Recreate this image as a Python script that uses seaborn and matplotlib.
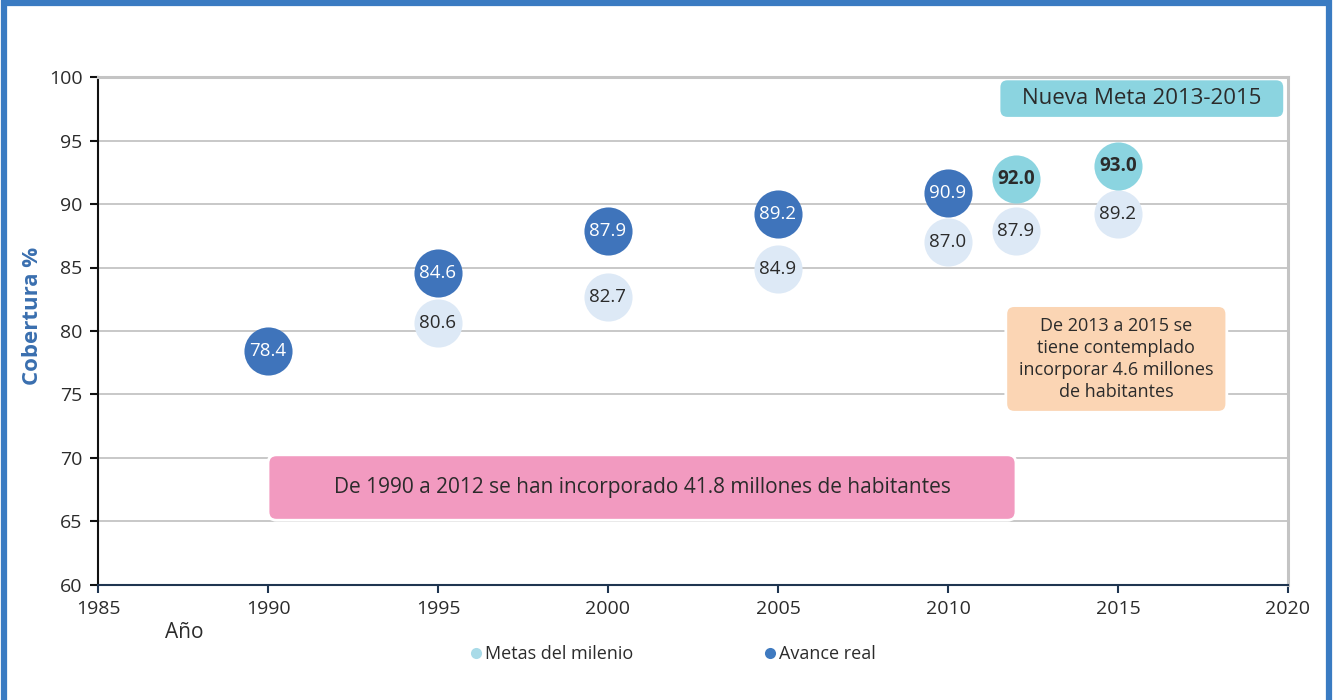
import matplotlib
matplotlib.use("Agg")
import matplotlib.pyplot as plt
import seaborn as sns
import pandas as pd
from matplotlib.patches import FancyBboxPatch, Rectangle
from matplotlib.lines import Line2D

# ---- data ----
metas_years = [1995, 2000, 2005, 2010, 2012, 2015]
metas_values = [80.6, 82.7, 84.9, 87.0, 87.9, 89.2]
avance_years = [1990, 1995, 2000, 2005, 2010]
avance_values = [78.4, 84.6, 87.9, 89.2, 90.9]
nueva_years = [2012, 2015]
nueva_values = [92.0, 93.0]
x_ticks = [1985, 1990, 1995, 2000, 2005, 2010, 2015, 2020]
y_ticks = [60, 65, 70, 75, 80, 85, 90, 95, 100]

sns.set_theme(style="white")
plt.rcParams['font.family'] = ['Open Sans', 'DejaVu Sans']

C_METAS = "#dde9f6"
C_AVANCE = "#3f74bb"
C_NUEVA = "#8bd4e0"
C_TEXT = "#2b2b2b"

fig = plt.figure(figsize=(13.33, 7.0), dpi=100)
ax = fig.add_axes([98/1333, 1-585/700, (1288-98)/1333, (585-77)/700])

# outer blue frame
fig.patches.append(Rectangle((4/1333, -0.05), (1329-4)/1333, 1.05 - 3/700,
                             transform=fig.transFigure, fill=False,
                             edgecolor="#3a7bc2", linewidth=4.5, zorder=0))

ax.set_xlim(1985, 2020)
ax.set_ylim(60, 100)
ax.set_xticks(x_ticks)
ax.set_yticks(y_ticks)
ax.yaxis.grid(True, color="#c4c4c4", linewidth=1.3, zorder=0)
ax.set_axisbelow(True)

for sp in ["top", "right"]:
    ax.spines[sp].set_color("#c4c4c4")
    ax.spines[sp].set_linewidth(2.2)
ax.spines["left"].set_color("#111111")
ax.spines["left"].set_linewidth(1.5)
ax.spines["bottom"].set_color("#1f3550")
ax.spines["bottom"].set_linewidth(1.5)
ax.tick_params(axis="y", which="both", left=True, direction="out", length=6,
               width=1.5, color="#111111", labelsize=14, labelcolor=C_TEXT, pad=5)
ax.tick_params(axis="x", which="both", bottom=True, direction="out", length=6,
               width=1.5, color="#1f3550", labelsize=14, labelcolor=C_TEXT, pad=5)

# data conversion factor for rounded boxes
asp = (40/508) / (35/1190)

def rbox(x0, y0, x1, y1, color, ec="white"):
    p = FancyBboxPatch((x0, y0), x1 - x0, y1 - y0,
                       boxstyle="round,pad=0,rounding_size=0.25",
                       mutation_aspect=asp, facecolor=color, edgecolor=ec,
                       linewidth=2, zorder=2)
    ax.add_patch(p)

# annotation boxes
rbox(1990.0, 65.1, 2012.0, 70.25, "#f29ac0")
ax.text(2001.0, 67.7, "De 1990 a 2012 se han incorporado 41.8 millones de habitantes",
        ha="center", va="center", fontsize=15, color=C_TEXT, zorder=3)
rbox(2011.5, 96.75, 2019.9, 99.85, "#8bd4e0")
ax.text(2015.7, 98.3, "Nueva Meta 2013-2015", ha="center", va="center",
        fontsize=16, color=C_TEXT, zorder=3)
rbox(2011.7, 73.6, 2018.2, 82.0, "#fbd5b4")
ax.text(2014.95, 77.8, "De 2013 a 2015 se\ntiene contemplado\nincorporar 4.6 millones\nde habitantes",
        ha="center", va="center", fontsize=13, color=C_TEXT, linespacing=1.3, zorder=3)

df_m = pd.DataFrame({"year": metas_years, "value": metas_values})
df_a = pd.DataFrame({"year": avance_years, "value": avance_values})
df_n = pd.DataFrame({"year": nueva_years, "value": nueva_values})

S = 1200
sns.scatterplot(data=df_m, x="year", y="value", s=S, color=C_METAS, linewidth=0,
                ax=ax, zorder=4, legend=False)
sns.scatterplot(data=df_a, x="year", y="value", s=S, color=C_AVANCE, linewidth=0,
                ax=ax, zorder=5, legend=False)
sns.scatterplot(data=df_n, x="year", y="value", s=S, color=C_NUEVA, linewidth=0,
                ax=ax, zorder=5, legend=False)

for x, y in zip(metas_years, metas_values):
    ax.text(x, y, f"{y:.1f}", ha="center", va="center", fontsize=13.5,
            color=C_TEXT, zorder=6)
for x, y in zip(avance_years, avance_values):
    ax.text(x, y, f"{y:.1f}", ha="center", va="center", fontsize=13.5,
            color="white", zorder=6)
for x, y in zip(nueva_years, nueva_values):
    ax.text(x, y, f"{y:.1f}", ha="center", va="center", fontsize=13.5,
            color=C_TEXT, fontweight="bold", zorder=6)

ax.set_xlabel("")
ax.set_ylabel("Cobertura %", fontsize=16, fontweight="bold", color="#3a6faf")
ax.yaxis.set_label_coords(-0.046, 0.53)
fig.text(184/1333, 1-633/700, "Año", ha="center", va="center", fontsize=15, color=C_TEXT)

handles = [Line2D([], [], marker="o", linestyle="none", markersize=8,
                  markerfacecolor="#a9dbe8", markeredgewidth=0, label="Metas del milenio"),
           Line2D([], [], marker="o", linestyle="none", markersize=8,
                  markerfacecolor="#3f7ac0", markeredgewidth=0, label="Avance real")]
fig.legend(handles=handles, loc="center", bbox_to_anchor=(673/1333, 1-654/700),
           ncol=2, frameon=False, fontsize=13, handlelength=0.6, handletextpad=0.2,
           columnspacing=7.3, labelcolor=C_TEXT)

fig.savefig("out.png", dpi=100)
